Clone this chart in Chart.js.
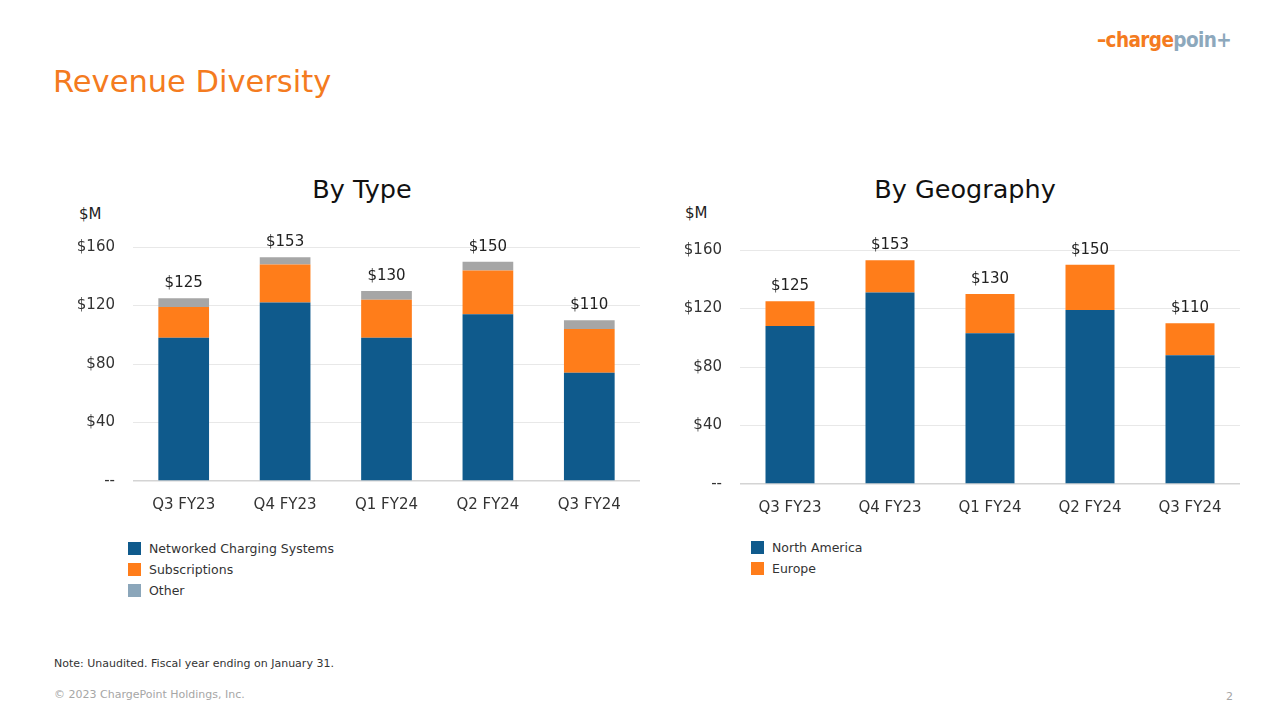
<!DOCTYPE html>
<html>
<head>
<meta charset="utf-8">
<script src="https://cdn.jsdelivr.net/npm/chart.js@4.4.0/dist/chart.umd.min.js"></script>
<style>
  html, body { margin: 0; padding: 0; background: #fff; }
  body { width: 1280px; height: 720px; position: relative; overflow: hidden; font-family: "DejaVu Sans", Verdana, sans-serif; color: #222; }
  .abs { position: absolute; white-space: nowrap; }
  #page-title { left: 53px; top: 64px; font-size: 30.5px; color: #F47B20; }
  .chart-title { top: 174px; font-size: 25.5px; color: #111; transform: translateX(-50%); }
  .unit { font-size: 15px; color: #222; }
  .legend { font-size: 12.5px; color: #333; }
  .legend div { height: 21px; line-height: 21px; }
  .legend i { display: inline-block; width: 13px; height: 13px; vertical-align: -2px; margin-right: 8px; }
  #logo { left: 1097px; top: 28px; font-family: "Liberation Sans Narrow", "DejaVu Sans Condensed", sans-serif; font-weight: bold; font-size: 20.5px; letter-spacing: -0.6px; }
  #note { left: 54px; top: 657px; font-size: 11px; color: #333; }
  #copy { left: 54px; top: 688px; font-size: 11px; color: #A6A6A6; }
  #pagenum { left: 1226px; top: 690px; font-size: 11px; color: #A6A6A6; }
  canvas { position: absolute; }
</style>
</head>
<body>
<div id="page-title" class="abs">Revenue Diversity</div>
<div id="logo" class="abs"><span style="color:#F47B20">&#8211;charge</span><span style="color:#8DA8BC">poin+</span></div>

<div class="abs chart-title" style="left:362px">By Type</div>
<div class="abs chart-title" style="left:965px">By Geography</div>
<div class="abs unit" style="left:79px;top:205px">$M</div>
<div class="abs unit" style="left:685px;top:204px">$M</div>

<canvas id="type-chart" style="left:60px;top:220px" width="580" height="303"></canvas>
<canvas id="geo-chart" style="left:667px;top:223px" width="573" height="303"></canvas>

<div class="abs legend" id="type-legend" style="left:128px;top:538px"></div>
<div class="abs legend" id="geo-legend" style="left:751px;top:537px"></div>

<div id="note" class="abs">Note: Unaudited. Fiscal year ending on January 31.</div>
<div id="copy" class="abs">&copy; 2023 ChargePoint Holdings, Inc.</div>
<div id="pagenum" class="abs">2</div>

<script>
/* ── data (values in $M) ───────────────────────────────────── */
const quarters          = ['Q3 FY23', 'Q4 FY23', 'Q1 FY24', 'Q2 FY24', 'Q3 FY24'];
const networkedCharging = [98, 122, 98, 114, 74];
const subscriptions     = [21, 26, 26, 30, 30];
const otherRevenue      = [6, 5, 6, 6, 6];
const typeTotals        = [125, 153, 130, 150, 110];
const northAmerica      = [108, 131, 103, 119, 88];
const europe            = [17, 22, 27, 31, 22];
const geoTotals         = [125, 153, 130, 150, 110];
const yTicks            = [0, 40, 80, 120, 160];

const BLUE = '#0F5A8C', ORANGE = '#FF7D1A', GRAY = '#A6A6A6', LEGEND_GRAY = '#8BA6BA';
const FONT = '"DejaVu Sans", Verdana, sans-serif';

// draws "$125" etc. above the top segment of each stack
const totalsPlugin = {
  id: 'totals',
  afterDatasetsDraw(chart, args, opts) {
    const ctx = chart.ctx;
    const meta = chart.getDatasetMeta(chart.data.datasets.length - 1);
    ctx.save();
    ctx.font = `15px ${FONT}`;
    ctx.fillStyle = '#222';
    ctx.textAlign = 'center';
    ctx.textBaseline = 'middle';
    meta.data.forEach((bar, i) => ctx.fillText('$' + opts.values[i], bar.x, bar.y - 15));
    ctx.restore();
  },
};

function makeChart(id, datasets, totals, barPct) {
  return new Chart(document.getElementById(id), {
    type: 'bar',
    data: {
      labels: quarters,
      datasets: datasets.map(d => ({ ...d, barPercentage: barPct, categoryPercentage: 1, borderWidth: 0 })),
    },
    options: {
      responsive: false, animation: false,
      layout: { padding: { top: 17, right: 0, left: 0, bottom: 0 } },
      plugins: { legend: { display: false }, tooltip: { enabled: false }, totals: { values: totals } },
      scales: {
        x: {
          stacked: true,
          grid: { display: false, drawTicks: false },
          border: { display: false },
          ticks: { color: '#333', padding: 15, font: { family: FONT, size: 15 } },
          afterFit: s => { s.height = 42; },
        },
        y: {
          stacked: true, min: 0, max: 160,
          afterBuildTicks: s => { s.ticks = yTicks.map(v => ({ value: v })); },
          grid: { drawTicks: false, color: c => c.tick && c.tick.value === 0 ? '#D4D4D4' : '#E8E8E8', lineWidth: c => c.tick && c.tick.value === 0 ? 1.5 : 1 },
          border: { display: false },
          ticks: { color: '#333', padding: 18, font: { family: FONT, size: 15 }, callback: v => v === 0 ? '--' : '$' + v },
          afterFit: s => { s.width = 73; },
        },
      },
    },
    plugins: [totalsPlugin],
  });
}

makeChart('type-chart', [
  { label: 'Networked Charging Systems', data: networkedCharging, backgroundColor: BLUE },
  { label: 'Subscriptions', data: subscriptions, backgroundColor: ORANGE },
  { label: 'Other', data: otherRevenue, backgroundColor: GRAY },
], typeTotals, 0.5);

makeChart('geo-chart', [
  { label: 'North America', data: northAmerica, backgroundColor: BLUE },
  { label: 'Europe', data: europe, backgroundColor: ORANGE },
], geoTotals, 0.49);

function legend(id, items) {
  document.getElementById(id).innerHTML = items
    .map(([name, color]) => `<div><i style="background:${color}"></i>${name}</div>`).join('');
}
legend('type-legend', [['Networked Charging Systems', BLUE], ['Subscriptions', ORANGE], ['Other', LEGEND_GRAY]]);
legend('geo-legend', [['North America', BLUE], ['Europe', ORANGE]]);
</script>
</body>
</html>
